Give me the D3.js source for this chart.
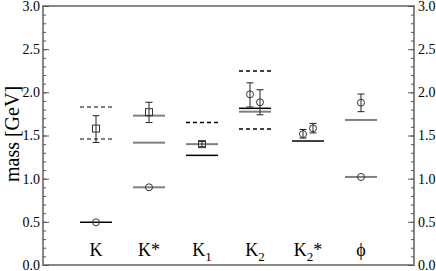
<!DOCTYPE html>
<html lang="en">
<head>
<meta charset="utf-8">
<script src="https://cdnjs.cloudflare.com/ajax/libs/d3/7.8.5/d3.min.js"></script>
<style>
body { margin: 0; background: #fff; }
svg text { font-family: "Liberation Serif", "DejaVu Serif", serif; fill: #000; }
.axis path { display: none; }
.axis line { stroke: #555; }
</style>
</head>
<body>
<script>
// categories along x
var categories = ["K", "K*", "K1", "K2", "K2*", "phi"];
var catMain = ["K", "K", "K", "K", "K", "\u03d5"];
var catSub = ["", "", "1", "2", "2", ""];
var catSup = ["", "*", "", "", "*", ""];

// horizontal level lines
var levelCat = ["K", "K", "K", "K*", "K*", "K*", "K1", "K1", "K1", "K2", "K2", "K2", "K2", "K2*", "phi", "phi"];
var levelVal = [0.495, 1.83, 1.46, 1.73, 1.417, 0.90, 1.65, 1.40, 1.27, 2.247, 1.815, 1.776, 1.575, 1.436, 1.68, 1.02];
var levelKind = ["black", "dashgray", "dashgray", "gray", "gray", "gray", "dashblack", "gray", "black", "dashblack", "black", "gray", "dashblack", "black", "gray", "gray"];

// data points with errors
var ptCat = ["K", "K", "K*", "K*", "K1", "K2", "K2", "K2*", "K2*", "phi", "phi"];
var ptSlot = [0, 0, 0, 0, 0, -1, 1, -1, 1, 0, 0];
var ptVal = [1.58, 0.495, 1.77, 0.90, 1.40, 1.977, 1.885, 1.517, 1.583, 1.88, 1.02];
var ptLo = [1.42, 0.495, 1.65, 0.90, 1.37, 1.83, 1.74, 1.47, 1.53, 1.776, 1.02];
var ptHi = [1.73, 0.495, 1.885, 0.90, 1.43, 2.11, 2.03, 1.57, 1.64, 1.98, 1.02];
var ptSym = ["square", "circle", "square", "circle", "square", "circle", "circle", "circle", "circle", "circle", "circle"];

var yTicks = [0, 0.5, 1.0, 1.5, 2.0, 2.5, 3.0];

var width = 436, height = 271;
var mLeft = 43, mRight = 414, mTop = 6, mBottom = 265;

var svg = d3.select("body").append("svg")
  .attr("width", width)
  .attr("height", height);

var x = d3.scalePoint().domain(categories).range([mLeft, mRight]).padding(1);
var y = d3.scaleLinear().domain([0, 3]).range([mBottom, mTop]);
var dodge = d3.scaleLinear().domain([-1, 1]).range([-5, 5]);

// frame
svg.append("rect")
  .attr("x", mLeft).attr("y", mTop)
  .attr("width", mRight - mLeft).attr("height", mBottom - mTop)
  .attr("fill", "none").attr("stroke", "#888").attr("stroke-width", 2);

// minor ticks
var minor = d3.range(0, 3.01, 0.1);
svg.append("g").attr("class", "axis")
  .attr("transform", "translate(" + mLeft + ",0)")
  .call(d3.axisLeft(y).tickValues(minor).tickSizeInner(-3).tickSizeOuter(0).tickFormat(""));
svg.append("g").attr("class", "axis")
  .attr("transform", "translate(" + mRight + ",0)")
  .call(d3.axisRight(y).tickValues(minor).tickSizeInner(-3).tickSizeOuter(0).tickFormat(""));

// major ticks + labels
svg.append("g").attr("class", "axis")
  .attr("transform", "translate(" + mLeft + ",0)")
  .call(d3.axisLeft(y).tickValues(yTicks).tickSizeInner(-6).tickSizeOuter(0).tickPadding(3).tickFormat(d3.format(".1f")));
svg.append("g").attr("class", "axis")
  .attr("transform", "translate(" + mRight + ",0)")
  .call(d3.axisRight(y).tickValues(yTicks).tickSizeInner(-6).tickSizeOuter(0).tickPadding(4).tickFormat(d3.format(".1f")));
svg.selectAll(".axis text").style("font-size", "14px").style("font-family", "Liberation Serif, serif");

// y label
svg.append("text")
  .attr("transform", "translate(19,134) rotate(-90)")
  .attr("text-anchor", "middle")
  .style("font-size", "20px")
  .text("mass [GeV]");

// category labels
var labs = svg.selectAll(".clab").data(categories).enter()
  .append("text")
  .attr("class", "clab")
  .attr("x", function(d) { return x(d); })
  .attr("y", 256)
  .attr("text-anchor", "middle")
  .style("font-size", "18px");
labs.append("tspan").text(function(d, i) { return catMain[i]; });
labs.append("tspan")
  .attr("dy", function(d, i) { return catSub[i] ? 5 : 0; })
  .style("font-size", "13px")
  .text(function(d, i) { return catSub[i]; });
labs.append("tspan")
  .attr("dy", function(d, i) { return catSub[i] ? -5 : 0; })
  .text(function(d, i) { return catSup[i]; });

// level lines
var half = 16;
svg.selectAll(".level").data(levelVal).enter()
  .append("line")
  .attr("class", "level")
  .attr("x1", function(d, i) { return x(levelCat[i]) - half; })
  .attr("x2", function(d, i) { return x(levelCat[i]) + half; })
  .attr("y1", function(d) { return y(d); })
  .attr("y2", function(d) { return y(d); })
  .attr("stroke", function(d, i) { return levelKind[i].indexOf("gray") >= 0 ? "#808080" : "#000"; })
  .attr("stroke-width", function(d, i) { return levelKind[i].indexOf("gray") >= 0 ? 2 : 1.5; })
  .attr("stroke-dasharray", function(d, i) { return levelKind[i].indexOf("dash") == 0 ? "4,3" : null; });

// error bars and symbols
var cap = 3.5;
var px = function(i) { return x(ptCat[i]) + dodge(ptSlot[i]); };
var idx = d3.range(ptVal.length);

var eb = svg.selectAll(".err").data(idx.filter(function(i) { return ptHi[i] > ptLo[i]; }))
  .enter().append("g").attr("class", "err")
  .attr("stroke", "#222").attr("stroke-width", 1);
eb.append("line")
  .attr("x1", px).attr("x2", px)
  .attr("y1", function(i) { return y(ptLo[i]); })
  .attr("y2", function(i) { return y(ptHi[i]); });
eb.append("line")
  .attr("x1", function(i) { return px(i) - cap; })
  .attr("x2", function(i) { return px(i) + cap; })
  .attr("y1", function(i) { return y(ptLo[i]); })
  .attr("y2", function(i) { return y(ptLo[i]); });
eb.append("line")
  .attr("x1", function(i) { return px(i) - cap; })
  .attr("x2", function(i) { return px(i) + cap; })
  .attr("y1", function(i) { return y(ptHi[i]); })
  .attr("y2", function(i) { return y(ptHi[i]); });

svg.selectAll(".circ").data(idx.filter(function(i) { return ptSym[i] == "circle"; }))
  .enter().append("circle")
  .attr("class", "circ")
  .attr("cx", px)
  .attr("cy", function(i) { return y(ptVal[i]); })
  .attr("r", 3.5)
  .attr("fill", "none").attr("stroke", "#333").attr("stroke-width", 1);

svg.selectAll(".sq").data(idx.filter(function(i) { return ptSym[i] == "square"; }))
  .enter().append("rect")
  .attr("class", "sq")
  .attr("x", function(i) { return px(i) - 3.5; })
  .attr("y", function(i) { return y(ptVal[i]) - 3.5; })
  .attr("width", 7).attr("height", 7)
  .attr("fill", "none").attr("stroke", "#333").attr("stroke-width", 1);
</script>
</body>
</html>
